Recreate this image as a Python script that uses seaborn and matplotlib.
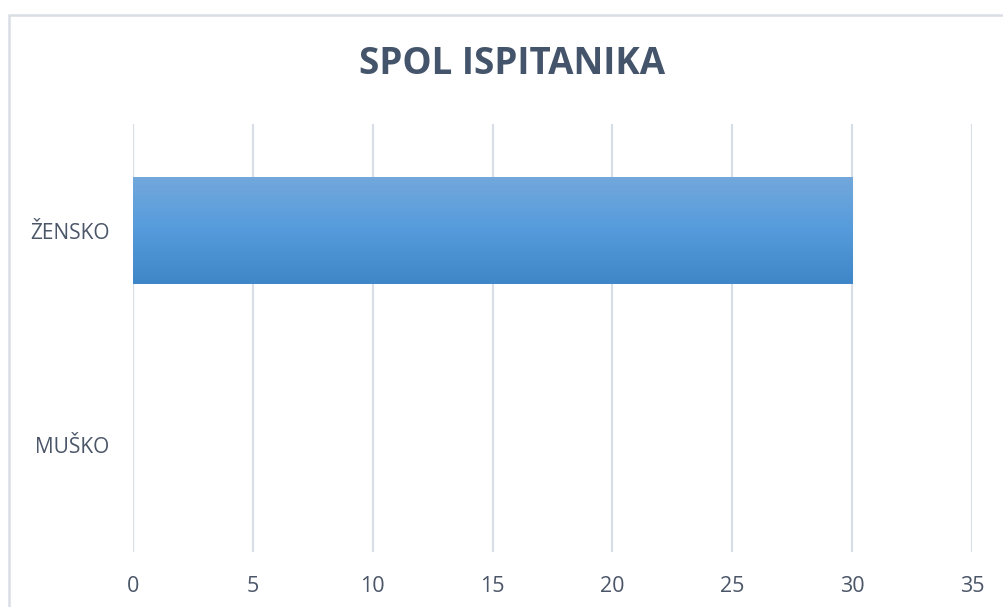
import numpy as np
import pandas as pd
import matplotlib
matplotlib.use("Agg")
import matplotlib.pyplot as plt
from matplotlib.patches import Rectangle
from matplotlib.colors import LinearSegmentedColormap
import seaborn as sns

categories = ["ŽENSKO", "MUŠKO"]
values = [30, 0]
xticks = [0, 5, 10, 15, 20, 25, 30, 35]
title = "SPOL ISPITANIKA"

sns.set_theme(style="white")
plt.rcParams['font.family'] = ['Open Sans', 'DejaVu Sans']

W, H = 1004, 607
fig = plt.figure(figsize=(W / 100, H / 100), dpi=100)
ax = fig.add_axes([133 / W, (H - 552) / H, (972 - 133) / W, (552 - 124) / H])

df = pd.DataFrame({"cat": categories, "val": values})
sns.barplot(data=df, x="val", y="cat", orient="h", ax=ax, width=0.5,
            color="#5b9bd5", edgecolor="none", saturation=1)

ax.set_xlim(0, 35)
ax.set_xticks(xticks)
ax.set_xlabel("")
ax.set_ylabel("")
for s in ax.spines.values():
    s.set_visible(False)
ax.grid(axis="x", color="#d9dee6", linewidth=1.6)
ax.set_axisbelow(True)
ax.tick_params(axis="x", length=0, pad=17, labelsize=15.5, labelcolor="#4b5668")
ax.tick_params(axis="y", length=0, pad=17, labelsize=15, labelcolor="#4b5668")

# gradient fill for bars (lighter on top, darker at bottom)
cmap = LinearSegmentedColormap.from_list("g", ["#72a8dc", "#559bdb", "#3f86c8"])
grad = np.linspace(0, 1, 256).reshape(-1, 1)
for p in list(ax.patches):
    w = p.get_width()
    if w <= 0:
        continue
    x0, y0 = p.get_x(), p.get_y()
    h = p.get_height()
    im = ax.imshow(grad, cmap=cmap, aspect="auto", origin="upper",
                   extent=[x0, x0 + w, y0 + h, y0], zorder=p.get_zorder() + 0.1,
                   interpolation="bicubic")
    im.set_clip_path(p)
ax.set_xlim(0, 35)
ax.set_ylim(1.5, -0.5)

fig.text(512 / W, 1 - 64 / H, title, ha="center", va="center",
         fontsize=26.5, fontweight="bold", color="#44546a")

fig.add_artist(Rectangle((9 / W, -0.1), 1.2, (H - 15) / H + 0.1,
                         transform=fig.transFigure, fill=False,
                         edgecolor="#d9dde4", linewidth=1.8))

fig.savefig("out.png", dpi=100)
